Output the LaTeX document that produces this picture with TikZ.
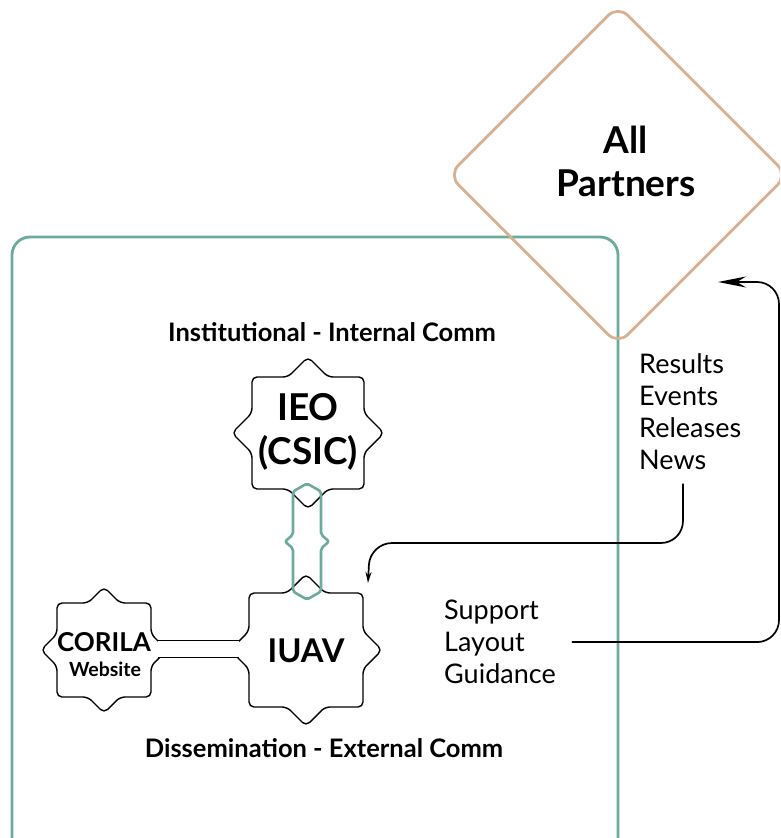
\documentclass[tikz,border=0pt]{standalone}
\usepackage{fontspec}
\setmainfont{Lato}
\usetikzlibrary{arrows.meta,calc,shapes.geometric}
\definecolor{tealc}{HTML}{6AAB9C}
\definecolor{tanc}{HTML}{D8B092}
% eight-pointed star: center, half-side of square, half-diagonal of diamond
\newcommand\eightstar[3]{%
  \draw[starline,shift={(#1)}] (#3,0) -- (#2,#3-#2) -- (#2,#2) -- (#3-#2,#2) -- (0,#3)
   -- (#2-#3,#2) -- (-#2,#2) -- (-#2,#3-#2) -- (-#3,0) -- (-#2,#2-#3) -- (-#2,-#2)
   -- (#2-#3,-#2) -- (0,-#3) -- (#3-#2,-#2) -- (#2,-#2) -- (#2,#2-#3) -- cycle;}
\begin{document}
\begin{tikzpicture}[x=1pt,y=-1pt,
  starline/.style={draw=black,line width=1.4pt,fill=white,rounded corners=5pt,line join=round},
  bigtxt/.style={font=\bfseries\fontsize{37}{44}\selectfont,align=center,inner sep=0},
  titletxt/.style={font=\bfseries\fontsize{25.5}{28}\selectfont,inner sep=0},
  listtxt/.style={font=\fontsize{27}{32}\selectfont,align=left,inner sep=0,anchor=north west},
  dblink/.style={draw=black,line width=1.4pt,double=white,double distance=16pt},
  tealline/.style={draw=tealc,line width=2.6pt,rounded corners=2pt,line join=round},
  arr/.style={draw=black,line width=1.7pt,rounded corners=22pt}]
\clip (0,0) rectangle (780,838);
\useasboundingbox (0,0) rectangle (780,838);
\fill[white] (0,0) rectangle (780,838);
% frames
\draw[tealc,line width=2.8pt,rounded corners=18pt] (12,237) rectangle (618,870);
\node[diamond,draw=tanc,line width=2.8pt,minimum width=340pt,minimum height=340pt,
      rounded corners=14pt,inner sep=0] (all) at (618,175) {};
\node[font=\bfseries\fontsize{37}{43}\selectfont,align=center,inner sep=0] (alltxt) at (626,161) {All\\Partners};
% stars
\coordinate (ieoc) at (308,433);
\coordinate (iuavc) at (306,650);
\coordinate (corc) at (104,650);
\eightstar{ieoc}{56}{76}
\eightstar{iuavc}{57}{76}
\eightstar{corc}{47}{63}
\node[bigtxt] (ieo) at ($(ieoc)+(0,-1)$) {IEO\\(CSIC)};
\node[bigtxt,font=\bfseries\fontsize{32.7}{40}\selectfont] (iuav) at ($(iuavc)+(0,1)$) {IUAV};
\node[font=\bfseries\fontsize{26}{28}\selectfont,inner sep=0] (corila) at ($(corc)+(0,-8)$) {CORILA};
\node[font=\bfseries\fontsize{19.5}{22}\selectfont,inner sep=0] (web) at ($(corc)+(1,19)$) {Website};
% links
\draw[dblink] ($(corc)+(54,-1)$) -- ($(iuavc)+(-67,-1)$);
\coordinate (mid) at ($(ieoc)!0.5!(iuavc)$);
\draw[tealline,shift={(mid)}] (0,-58) -- (14,-50) -- (14,-7) -- (22,0) -- (14,7) -- (14,50)
   -- (0,58) -- (-14,50) -- (-14,7) -- (-22,0) -- (-14,-7) -- (-14,-50) -- cycle;
% titles
\node[titletxt] (intt) at (332,332) {Institutional - Internal Comm};
\node[titletxt] (extt) at (324,748) {Dissemination - External Comm};
% lists
\node[listtxt] (res) at (639,353) {Results\\Events\\Releases\\News};
\node[listtxt] (sup) at (444,600) {Support\\Layout\\Guidance};
% arrows
\coordinate (partin) at (718,282);
\draw[arr,-{Stealth[length=11pt,width=6pt]}] ($(res.south west)+(44,14)$) |- ($(iuavc)+(64,-107)$) -- ($(iuavc)+(62,-67)$);
\draw[arr,-{Stealth[length=28pt,width=11pt]}] ($(sup.east)+(16,0)$) -| (779,282) -- (partin);
\end{tikzpicture}
\end{document}
